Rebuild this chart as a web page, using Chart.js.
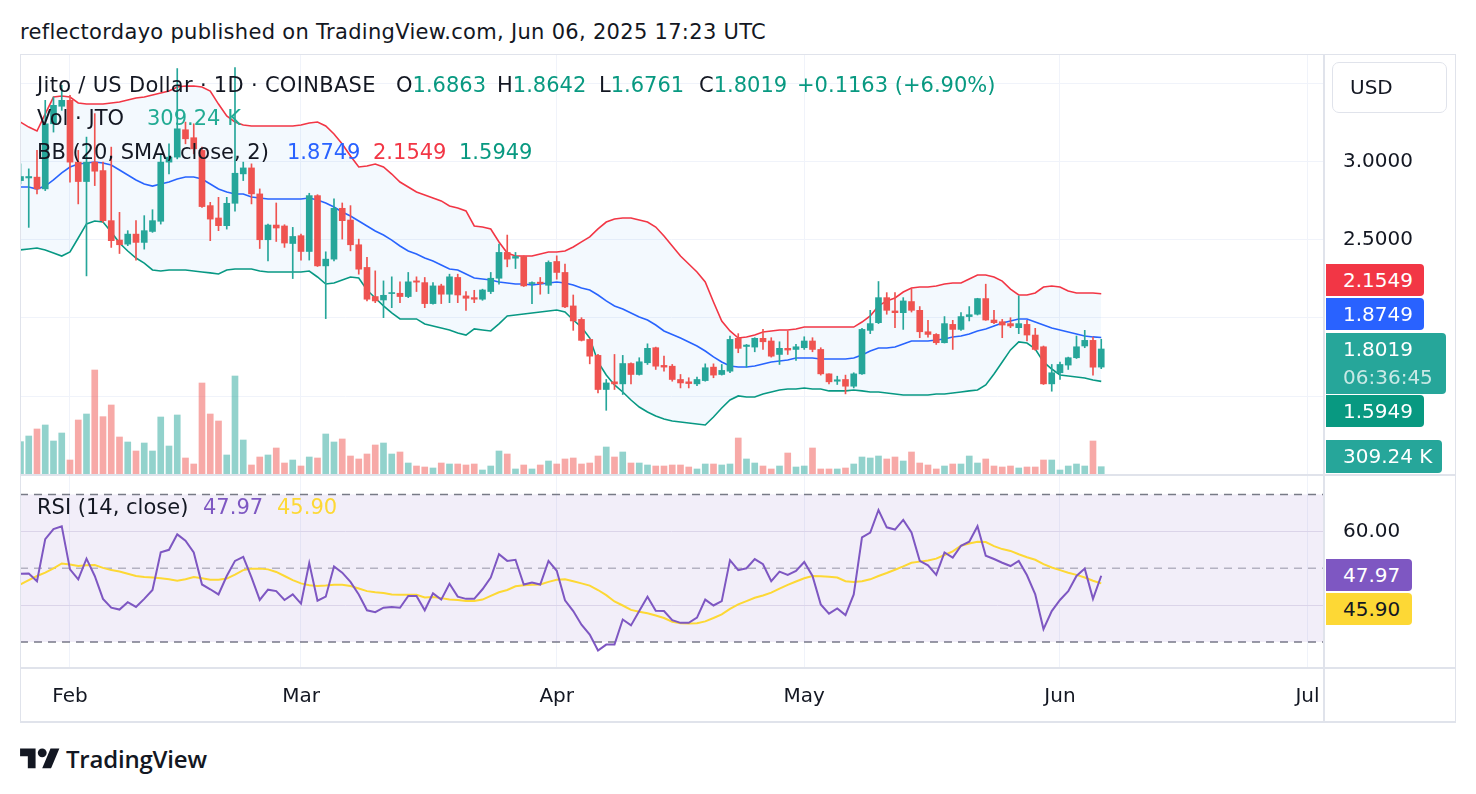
<!DOCTYPE html>
<html>
<head>
<meta charset="utf-8">
<script src="https://cdn.jsdelivr.net/npm/chart.js@4.4.1/dist/chart.umd.min.js"></script>
<style>
  html,body{margin:0;padding:0;background:#fff;}
  body{width:1476px;height:794px;position:relative;overflow:hidden;font-family:'DejaVu Sans',sans-serif;color:#131722;}
  .abs{position:absolute;}
  #hdr{left:20px;top:18px;font-size:21px;line-height:28px;white-space:nowrap;letter-spacing:0.3px;}
  .lg{font-size:21px;line-height:26px;white-space:nowrap;}
  .up{color:#089981;}
  .box{left:1326px;height:32px;font-size:20px;line-height:32px;color:#fff;padding-left:17px;box-sizing:border-box;border-radius:0 4px 4px 0;white-space:nowrap;}
  .line{background:#e0e3eb;}
</style>
</head>
<body>
<div id="hdr" class="abs">reflectordayo published on TradingView.com, Jun 06, 2025 17:23 UTC</div>

<div class="abs" style="left:20px;top:54px;width:1436px;height:420px;">
  <canvas id="main" width="1436" height="420"></canvas>
</div>
<div class="abs" style="left:20px;top:476px;width:1436px;height:246px;">
  <canvas id="rsi" width="1436" height="246"></canvas>
</div>

<!-- frame and separators -->
<div class="abs line" style="left:20px;top:54px;width:1436px;height:1px;"></div>
<div class="abs line" style="left:20px;top:721px;width:1436px;height:2px;"></div>
<div class="abs line" style="left:20px;top:54px;width:1px;height:668px;"></div>
<div class="abs line" style="left:1455px;top:54px;width:1px;height:668px;"></div>
<div class="abs line" style="left:20px;top:474px;width:1436px;height:2px;"></div>
<div class="abs line" style="left:20px;top:667px;width:1436px;height:2px;"></div>
<div class="abs line" style="left:1323px;top:54px;width:2px;height:668px;"></div>

<!-- legends -->
<div class="abs lg" style="left:37px;top:72px;letter-spacing:0.3px;">Jito / US Dollar · 1D · COINBASE</div>
<div class="abs lg" style="left:396px;top:72px;">O<span class="up">1.6863</span></div>
<div class="abs lg" style="left:497px;top:72px;">H<span class="up">1.8642</span></div>
<div class="abs lg" style="left:599px;top:72px;">L<span class="up">1.6761</span></div>
<div class="abs lg" style="left:699px;top:72px;">C<span class="up">1.8019</span></div>
<div class="abs lg up" style="left:797px;top:72px;">+0.1163 (+6.90%)</div>
<div class="abs lg" style="left:37px;top:105px;">Vol · JTO</div>
<div class="abs lg" style="left:147px;top:105px;color:#22ab94;">309.24 K</div>
<div class="abs lg" style="left:37px;top:139px;">BB (20, SMA, close, 2)</div>
<div class="abs lg" style="left:287px;top:139px;color:#2962ff;">1.8749</div>
<div class="abs lg" style="left:373px;top:139px;color:#f23645;">2.1549</div>
<div class="abs lg" style="left:459px;top:139px;color:#089981;">1.5949</div>
<div class="abs lg" style="left:37px;top:494px;">RSI (14, close)</div>
<div class="abs lg" style="left:203px;top:494px;color:#7e57c2;">47.97</div>
<div class="abs lg" style="left:277px;top:494px;color:#fdd835;">45.90</div>

<!-- right axis widgets -->
<div class="abs" style="left:1332px;top:62px;width:115px;height:51px;border:1px solid #e0e3eb;border-radius:7px;box-sizing:border-box;font-size:20px;line-height:49px;padding-left:17px;">USD</div>
<div class="abs box" style="top:264px;width:98px;background:#f23645;">2.1549</div>
<div class="abs box" style="top:298px;width:98px;background:#2962ff;">1.8749</div>
<div class="abs box" style="top:333px;width:120px;height:61px;background:#26a69a;line-height:28px;padding-top:2px;">1.8019<br><span style="color:rgba(255,255,255,0.75)">06:36:45</span></div>
<div class="abs box" style="top:395px;width:98px;background:#089981;">1.5949</div>
<div class="abs box" style="top:440px;width:116px;height:33px;background:#26a69a;">309.24 K</div>
<div class="abs box" style="top:559px;width:86px;background:#7e57c2;">47.97</div>
<div class="abs box" style="top:593px;width:86px;background:#fdd835;color:#131722;">45.90</div>

<!-- logo -->
<svg class="abs" style="left:20px;top:744px;" width="40" height="31" viewBox="0 0 36 28"><path d="M14 22H7V11H0V4h14v18zM28 22h-8l7.5-18h8L28 22z" fill="#131722"/><circle cx="20" cy="8" r="4" fill="#131722"/></svg>
<div class="abs" style="left:66px;top:742px;font-family:'Open Sans',sans-serif;font-size:24px;line-height:34px;font-weight:600;letter-spacing:-0.2px;">TradingView</div>

<script>
// ---------- DATA (daily, starting 2025-01-26) ----------
const startDate = '2025-01-26';
const opens = [2.878,2.895,2.900,2.825,3.241,3.353,3.391,2.996,2.872,2.996,
2.942,2.622,2.498,2.472,2.536,2.483,2.553,2.618,2.996,3.028,
3.203,3.152,3.071,2.718,2.639,2.590,2.733,2.921,2.959,2.793,
2.500,2.594,2.588,2.476,2.526,2.425,2.782,2.333,2.376,2.701,
2.626,2.468,2.323,2.137,2.115,2.156,2.158,2.137,2.237,2.226,
2.092,2.205,2.152,2.259,2.141,2.130,2.120,2.169,2.254,2.419,
2.382,2.393,2.220,2.229,2.209,2.361,2.291,2.077,1.991,1.863,
1.761,1.543,1.592,1.579,1.709,1.639,1.714,1.810,1.697,1.692,
1.607,1.592,1.579,1.600,1.686,1.639,1.660,1.870,1.818,1.814,
1.870,1.853,1.767,1.806,1.799,1.810,1.853,1.799,1.643,1.596,
1.607,1.564,1.643,1.921,1.970,2.130,2.045,2.034,2.105,2.049,
1.912,1.895,1.842,1.959,1.927,2.009,2.024,2.124,1.987,1.976,
1.964,1.938,1.959,1.891,1.816,1.579,1.650,1.699,1.746,1.821,
1.857,1.6863];
const highs = [2.985,2.953,3.071,3.391,3.412,3.487,3.423,3.071,3.156,3.306,
2.996,3.092,2.675,2.558,2.622,2.654,2.692,3.049,3.113,3.594,
3.252,3.241,3.092,2.739,2.771,2.771,3.600,2.996,2.985,2.825,
2.600,2.735,2.596,2.579,2.536,2.797,2.788,2.423,2.761,2.735,
2.718,2.504,2.387,2.301,2.237,2.263,2.231,2.291,2.263,2.259,
2.226,2.216,2.280,2.280,2.169,2.177,2.184,2.291,2.472,2.530,
2.419,2.397,2.231,2.259,2.365,2.397,2.344,2.147,2.002,1.868,
1.767,1.607,1.767,1.761,1.714,1.746,1.835,1.814,1.756,1.703,
1.639,1.618,1.622,1.707,1.707,1.703,1.885,1.900,1.831,1.874,
1.927,1.874,1.848,1.917,1.831,1.880,1.874,1.810,1.643,1.628,
1.635,1.650,1.934,2.049,2.233,2.162,2.162,2.130,2.184,2.073,
1.985,1.900,2.009,1.985,2.034,2.073,2.126,2.216,2.049,1.991,
2.002,2.141,1.985,1.934,1.821,1.703,1.718,1.750,1.885,1.921,
1.878,1.8642];
const lows = [2.857,2.579,2.793,2.814,3.188,3.327,2.868,2.729,2.269,2.846,
2.611,2.451,2.412,2.462,2.370,2.440,2.547,2.600,2.921,3.017,
3.113,3.049,2.707,2.494,2.558,2.568,2.682,2.878,2.729,2.444,
2.365,2.489,2.451,2.252,2.370,2.370,2.329,1.996,2.365,2.504,
2.429,2.280,2.109,2.098,2.002,2.066,2.098,2.130,2.169,2.066,
2.088,2.092,2.098,2.098,2.049,2.098,2.113,2.156,2.216,2.327,
2.316,2.201,2.092,2.152,2.156,2.248,2.066,1.921,1.853,1.707,
1.521,1.410,1.543,1.511,1.579,1.635,1.703,1.671,1.660,1.596,
1.553,1.553,1.568,1.596,1.618,1.635,1.650,1.778,1.686,1.784,
1.799,1.750,1.703,1.767,1.729,1.799,1.784,1.635,1.579,1.575,
1.515,1.553,1.639,1.900,1.964,2.024,1.938,1.927,2.038,1.874,
1.878,1.831,1.840,1.799,1.921,1.981,2.019,1.985,1.964,1.874,
1.938,1.900,1.853,1.793,1.575,1.532,1.607,1.671,1.741,1.810,
1.635,1.6761];
const closes = [2.904,2.904,2.825,3.241,3.359,3.391,2.996,2.872,2.996,2.938,
2.622,2.494,2.468,2.536,2.483,2.558,2.622,2.996,3.028,3.209,
3.145,3.081,2.712,2.632,2.590,2.733,2.925,2.959,2.793,2.500,
2.594,2.575,2.479,2.521,2.425,2.782,2.333,2.376,2.701,2.622,
2.468,2.312,2.120,2.109,2.145,2.160,2.137,2.231,2.229,2.092,
2.205,2.152,2.263,2.147,2.126,2.120,2.179,2.254,2.419,2.376,
2.393,2.205,2.226,2.220,2.355,2.291,2.071,1.981,1.857,1.756,
1.543,1.585,1.579,1.709,1.639,1.720,1.806,1.692,1.686,1.607,
1.585,1.581,1.607,1.682,1.635,1.665,1.863,1.806,1.827,1.870,
1.848,1.756,1.806,1.795,1.816,1.853,1.799,1.643,1.592,1.605,
1.564,1.643,1.927,1.964,2.130,2.049,2.034,2.109,2.049,1.912,
1.895,1.842,1.964,1.927,2.009,2.021,2.124,1.987,1.970,1.955,
1.949,1.964,1.891,1.799,1.579,1.650,1.703,1.746,1.816,1.857,
1.6856,1.8019];
const volumesK = [1368,1607,1904,2073,1396,1734,592,2284,2538,4399,
2425,2919,1565,1354,973,1311,973,2411,1184,2496,
677,423,3849,2538,2242,804,4145,1438,381,719,
804,1100,465,592,338,719,677,1692,1354,1481,
761,635,846,1227,1311,846,931,465,338,296,
254,465,423,423,381,423,169,338,973,846,
212,381,212,381,550,423,635,677,423,465,
761,1142,719,931,465,465,381,338,338,381,
381,296,212,423,423,381,423,1523,635,465,
338,212,338,888,296,338,1100,212,212,212,
254,423,719,677,761,635,719,550,931,465,
381,212,338,423,423,761,465,635,338,296,
338,254,296,296,592,592,169,338,423,338,
1396,309.24];
const bbUpper = [3.252,3.220,3.195,3.304,3.412,3.419,3.412,3.374,3.367,3.367,
3.367,3.374,3.380,3.393,3.406,3.412,3.425,3.438,3.450,3.476,
3.482,3.482,3.476,3.450,3.367,3.291,3.252,3.233,3.227,3.227,
3.227,3.227,3.227,3.227,3.233,3.246,3.252,3.227,3.176,3.112,
3.035,2.965,2.971,2.984,2.965,2.920,2.869,2.837,2.805,2.786,
2.767,2.748,2.716,2.703,2.684,2.588,2.581,2.569,2.486,2.415,
2.396,2.396,2.396,2.409,2.422,2.422,2.428,2.454,2.486,2.518,
2.569,2.613,2.633,2.639,2.639,2.626,2.613,2.581,2.524,2.460,
2.396,2.345,2.294,2.230,2.102,1.981,1.917,1.872,1.879,1.891,
1.911,1.917,1.923,1.923,1.930,1.942,1.942,1.942,1.942,1.942,
1.942,1.942,1.974,2.013,2.077,2.109,2.128,2.166,2.192,2.198,
2.198,2.204,2.217,2.224,2.224,2.249,2.275,2.275,2.262,2.236,
2.185,2.147,2.147,2.160,2.198,2.204,2.198,2.173,2.160,2.160,
2.160,2.1549];
const bbBasis = [2.837,2.837,2.824,2.843,2.882,2.927,2.965,2.984,2.990,2.997,
2.990,2.978,2.946,2.914,2.882,2.856,2.843,2.856,2.869,2.888,
2.901,2.901,2.888,2.856,2.824,2.805,2.792,2.792,2.773,2.767,
2.760,2.760,2.760,2.760,2.760,2.767,2.754,2.735,2.709,2.677,
2.652,2.620,2.588,2.556,2.530,2.498,2.460,2.428,2.409,2.383,
2.364,2.339,2.313,2.307,2.281,2.256,2.249,2.243,2.230,2.224,
2.217,2.217,2.211,2.217,2.224,2.230,2.224,2.211,2.192,2.179,
2.147,2.109,2.077,2.058,2.032,2.006,1.987,1.955,1.917,1.895,
1.872,1.847,1.821,1.789,1.751,1.719,1.693,1.687,1.687,1.693,
1.706,1.719,1.725,1.732,1.744,1.744,1.744,1.738,1.738,1.738,
1.738,1.744,1.764,1.789,1.808,1.808,1.815,1.834,1.853,1.853,
1.853,1.859,1.866,1.879,1.885,1.898,1.917,1.930,1.949,1.968,
1.981,1.994,1.994,1.974,1.955,1.936,1.923,1.911,1.898,1.885,
1.879,1.8749];
const bbLower = [2.435,2.441,2.447,2.435,2.415,2.396,2.422,2.511,2.601,2.620,
2.613,2.550,2.479,2.428,2.383,2.351,2.307,2.300,2.307,2.307,
2.307,2.300,2.294,2.288,2.281,2.307,2.313,2.313,2.313,2.300,
2.294,2.294,2.294,2.294,2.294,2.300,2.262,2.217,2.224,2.243,
2.262,2.256,2.179,2.128,2.077,2.032,1.994,1.994,1.994,1.962,
1.949,1.936,1.923,1.904,1.891,1.930,1.923,1.917,1.962,2.013,
2.019,2.026,2.032,2.038,2.045,2.051,2.038,1.987,1.942,1.872,
1.719,1.636,1.572,1.527,1.476,1.431,1.399,1.374,1.355,1.342,
1.335,1.329,1.323,1.316,1.367,1.425,1.476,1.502,1.495,1.495,
1.514,1.527,1.540,1.546,1.546,1.553,1.546,1.546,1.534,1.534,
1.534,1.540,1.534,1.527,1.527,1.521,1.514,1.508,1.508,1.508,
1.508,1.514,1.514,1.521,1.527,1.534,1.540,1.572,1.642,1.719,
1.796,1.847,1.840,1.802,1.719,1.674,1.636,1.629,1.623,1.617,
1.604,1.5949];
const rsi = [48.5,48.6,46.5,57.9,60.6,61.4,49.7,47.0,52.6,47.9,
41.7,39.3,38.8,40.8,39.5,41.7,44.1,54.3,55.0,59.2,
57.5,54.3,45.6,44.3,42.9,47.9,52.0,53.1,47.5,41.4,
44.2,43.8,41.4,42.9,40.4,51.4,41.2,42.3,50.5,48.8,
46.3,42.9,38.6,38.1,39.3,39.5,39.3,42.5,42.5,38.6,
43.2,41.5,45.8,42.3,41.7,41.7,44.3,47.5,53.8,52.0,
52.3,45.6,46.1,45.6,52.0,49.3,41.3,38.4,34.7,32.0,
27.7,29.3,29.3,36.1,34.5,38.4,42.3,38.5,38.4,35.9,
35.2,35.2,36.6,41.5,39.9,41.1,52.2,49.5,50.0,52.5,
51.1,46.5,49.1,48.2,49.3,51.7,47.9,40.2,37.7,39.1,
37.3,42.9,58.4,59.7,65.8,61.1,60.5,63.1,59.7,52.0,
50.8,48.2,54.3,52.9,56.1,57.2,61.4,53.4,52.5,51.5,
50.6,52.0,48.1,42.9,33.5,38.4,41.4,43.8,47.9,49.9,
41.7,47.97];
const rsiMA = [45.6,46.8,47.9,48.8,50.0,51.3,51.0,50.6,50.8,50.9,
50.1,49.5,49.1,48.5,47.9,47.6,47.5,47.3,47.0,46.6,
47.0,47.6,47.3,46.9,46.9,47.2,48.3,49.5,49.9,49.9,
49.7,49.0,47.9,46.8,45.9,45.4,45.2,45.3,45.5,45.5,
45.2,44.5,43.8,43.5,43.3,42.9,42.8,42.8,42.8,42.1,
42.2,41.9,41.5,41.4,41.1,41.1,41.5,42.5,43.5,44.1,
45.1,45.4,45.5,45.6,46.3,46.9,47.0,46.5,45.9,45.3,
44.1,42.7,41.0,39.9,38.7,38.2,37.8,37.2,36.5,35.5,
35.1,35.0,35.1,35.6,36.5,37.5,39.0,40.2,41.1,42.0,
42.6,43.4,44.5,45.5,46.4,47.3,47.9,47.8,47.7,47.5,
46.5,46.3,46.5,47.0,47.9,48.7,49.6,50.5,51.5,51.8,
52.1,52.6,53.6,54.6,56.1,56.7,57.2,57.1,56.0,55.2,
54.7,53.8,53.0,52.3,51.1,50.2,49.5,48.8,48.2,47.5,
46.6,45.90];
const rsiLevels = [70, 50, 30];
const monthTickIdx = [6, 34, 65, 95, 126, 156];   // day index from startDate
const monthLabels = ['Feb', 'Mar', 'Apr', 'May', 'Jun', 'Jul'];
const priceTicks = [1.5, 2.0, 2.5, 3.0, 3.5];
const priceTicksShown = [2.5, 3.0];
const rsiTicks = [40, 60];
const rsiTicksShown = [60];

// ---------- STYLE ----------
const FAM = "'DejaVu Sans',sans-serif";
const UP = '#26a69a', DOWN = '#ef5350';
const UPV = 'rgba(38,166,154,0.5)', DOWNV = 'rgba(239,83,80,0.5)';
const GRID = '#f0f3fa';
const X_MIN = -0.06, X_MAX = 157.88;

const idx = closes.map((_, i) => i);
const upFlags = closes.map((c, i) => c >= opens[i]);
const candleColors = upFlags.map(u => u ? UP : DOWN);
const volColors = upFlags.map(u => u ? UPV : DOWNV);

const xScaleBase = {
  type: 'linear', min: X_MIN, max: X_MAX, offset: false,
  afterBuildTicks: s => { s.ticks = monthTickIdx.map(v => ({ value: v })); },
  grid: { color: GRID, drawTicks: false, offset: false },
  border: { display: false }
};

Chart.defaults.font.family = FAM;
Chart.defaults.color = '#131722';

new Chart(document.getElementById('main'), {
  type: 'bar',
  data: {
    datasets: [
      { type: 'bar', label: 'body', order: 0, grouped: false, barThickness: 6, minBarLength: 1,
        data: idx.map(i => ({ x: i, y: [opens[i], closes[i]] })),
        backgroundColor: candleColors, borderWidth: 0, yAxisID: 'y' },
      { type: 'bar', label: 'wick', order: 1, grouped: false, barThickness: 1,
        data: idx.map(i => ({ x: i, y: [lows[i], highs[i]] })),
        backgroundColor: candleColors, borderWidth: 0, yAxisID: 'y' },
      { type: 'line', label: 'upper', order: 3, data: idx.map(i => ({ x: i, y: bbUpper[i] })),
        borderColor: '#f23645', borderWidth: 1.6, pointRadius: 0, tension: 0,
        fill: '+2', backgroundColor: 'rgba(33,150,243,0.055)', yAxisID: 'y' },
      { type: 'line', label: 'basis', order: 3, data: idx.map(i => ({ x: i, y: bbBasis[i] })),
        borderColor: '#2962ff', borderWidth: 1.6, pointRadius: 0, tension: 0, fill: false, yAxisID: 'y' },
      { type: 'line', label: 'lower', order: 3, data: idx.map(i => ({ x: i, y: bbLower[i] })),
        borderColor: '#089981', borderWidth: 1.6, pointRadius: 0, tension: 0, fill: false, yAxisID: 'y' },
      { type: 'bar', label: 'volume', order: 5, grouped: false, barThickness: 6,
        data: idx.map(i => ({ x: i, y: volumesK[i] })),
        backgroundColor: volColors, borderWidth: 0, yAxisID: 'yv' }
    ]
  },
  options: {
    responsive: false, animation: false,
    layout: { padding: 0 },
    plugins: { legend: { display: false }, tooltip: { enabled: false } },
    scales: {
      x: Object.assign({}, xScaleBase, {
        ticks: { display: false },
        afterFit: s => { s.height = 0; s.paddingLeft = 0; s.paddingRight = 0; }
      }),
      y: {
        position: 'right', min: 1.003, max: 3.687,
        afterBuildTicks: s => { s.ticks = priceTicks.map(v => ({ value: v })); },
        ticks: { padding: 20, font: { size: 20 }, color: '#131722',
          callback: v => priceTicksShown.includes(v) ? v.toFixed(4) : '' },
        grid: { color: GRID, drawTicks: false },
        border: { display: false },
        afterFit: s => { s.width = 133; s.paddingTop = 0; s.paddingBottom = 0; }
      },
      yv: { display: false, min: 0, max: 17766 }
    }
  }
});

const lvlData = v => [{ x: X_MIN, y: v }, { x: X_MAX, y: v }];
new Chart(document.getElementById('rsi'), {
  type: 'line',
  data: {
    datasets: [
      { label: 'rsi', order: 0, data: idx.map(i => ({ x: i, y: rsi[i] })),
        borderColor: '#7e57c2', borderWidth: 2, pointRadius: 0, tension: 0, fill: false },
      { label: 'ma', order: 1, data: idx.map(i => ({ x: i, y: rsiMA[i] })),
        borderColor: '#fdd835', borderWidth: 2, pointRadius: 0, tension: 0, fill: false },
      { label: 'hi', order: 2, data: lvlData(rsiLevels[0]),
        borderColor: '#787b86', borderWidth: 1.6, borderDash: [8, 6], pointRadius: 0,
        fill: '+2', backgroundColor: 'rgba(126,87,194,0.1)' },
      { label: 'mid', order: 2, data: lvlData(rsiLevels[1]),
        borderColor: 'rgba(120,123,134,0.5)', borderWidth: 1.6, borderDash: [8, 6], pointRadius: 0, fill: false },
      { label: 'lo', order: 2, data: lvlData(rsiLevels[2]),
        borderColor: '#787b86', borderWidth: 1.6, borderDash: [8, 6], pointRadius: 0, fill: false }
    ]
  },
  options: {
    responsive: false, animation: false,
    layout: { padding: 0 },
    plugins: { legend: { display: false }, tooltip: { enabled: false } },
    scales: {
      x: Object.assign({}, xScaleBase, {
        ticks: { padding: 17, font: { size: 20 }, color: '#131722', maxRotation: 0, autoSkip: false,
          callback: v => { const j = monthTickIdx.indexOf(v); return j >= 0 ? monthLabels[j] : ''; } },
        afterFit: s => { s.height = 54; s.paddingLeft = 0; s.paddingRight = 0; }
      }),
      y: {
        position: 'right', min: 22.95, max: 75.02,
        afterBuildTicks: s => { s.ticks = rsiTicks.map(v => ({ value: v })); },
        ticks: { padding: 20, font: { size: 20 }, color: '#131722',
          callback: v => rsiTicksShown.includes(v) ? v.toFixed(2) : '' },
        grid: { color: '#e6e3ee', drawTicks: false },
        border: { display: false },
        afterFit: s => { s.width = 133; s.paddingTop = 0; s.paddingBottom = 0; }
      }
    }
  }
});
</script>
</body>
</html>
